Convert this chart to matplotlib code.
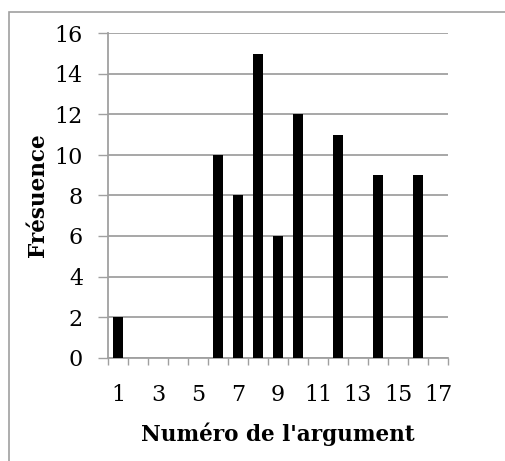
import matplotlib
matplotlib.use("Agg")
import matplotlib.pyplot as plt
from matplotlib.patches import Rectangle
from matplotlib.ticker import MultipleLocator

# --- Daten ---
categories = list(range(1, 18))
frequencies = [2, 0, 0, 0, 0, 10, 8, 15, 6, 12, 0, 11, 0, 9, 0, 9, 0]
xtick_labels = [str(c) for c in categories[::2]]

plt.rcParams["font.family"] = ["DejaVu Serif"]
GRAY = "#a0a0a0"

fig = plt.figure(figsize=(5.05, 4.61), dpi=100)
ax = fig.add_axes([108 / 505, 1 - 357.5 / 461, 340 / 505, 324 / 461])

ax.bar(categories, frequencies, width=0.5, color="black", zorder=3)

ax.set_xlim(0.5, 17.5)
ax.set_ylim(0, 16)
ax.yaxis.set_major_locator(MultipleLocator(2))
ax.grid(axis="y", color=GRAY, linewidth=1.3, zorder=0)

# Kategorie-Achse: Striche zwischen den Kategorien, Beschriftung jede zweite
ax.set_xticks([c - 0.5 for c in categories] + [17.5], minor=True)
ax.set_xticks(categories[::2])
ax.set_xticklabels(xtick_labels)
ax.tick_params(axis="x", which="major", length=0, pad=19, labelsize=16)
ax.tick_params(axis="x", which="minor", length=5, width=1, color=GRAY)
ax.tick_params(axis="y", length=7, width=1, color=GRAY, labelsize=16, pad=11)

for s in ["top", "right"]:
    ax.spines[s].set_visible(False)
for s in ["left", "bottom"]:
    ax.spines[s].set_color(GRAY)
    ax.spines[s].set_linewidth(1.3)

ax.set_xlabel("Numéro de l'argument", fontsize=15.5, fontweight="bold", labelpad=12)
ax.set_ylabel("Frésuence", fontsize=15.5, fontweight="bold", labelpad=4)

# Rahmen um das Diagramm
fig.patches.append(Rectangle((9 / 505, -0.1), 1.2, 1 - 12 / 461 + 0.1,
                             transform=fig.transFigure, fill=False,
                             edgecolor=GRAY, linewidth=1.2))

fig.savefig("out.png", dpi=100)
